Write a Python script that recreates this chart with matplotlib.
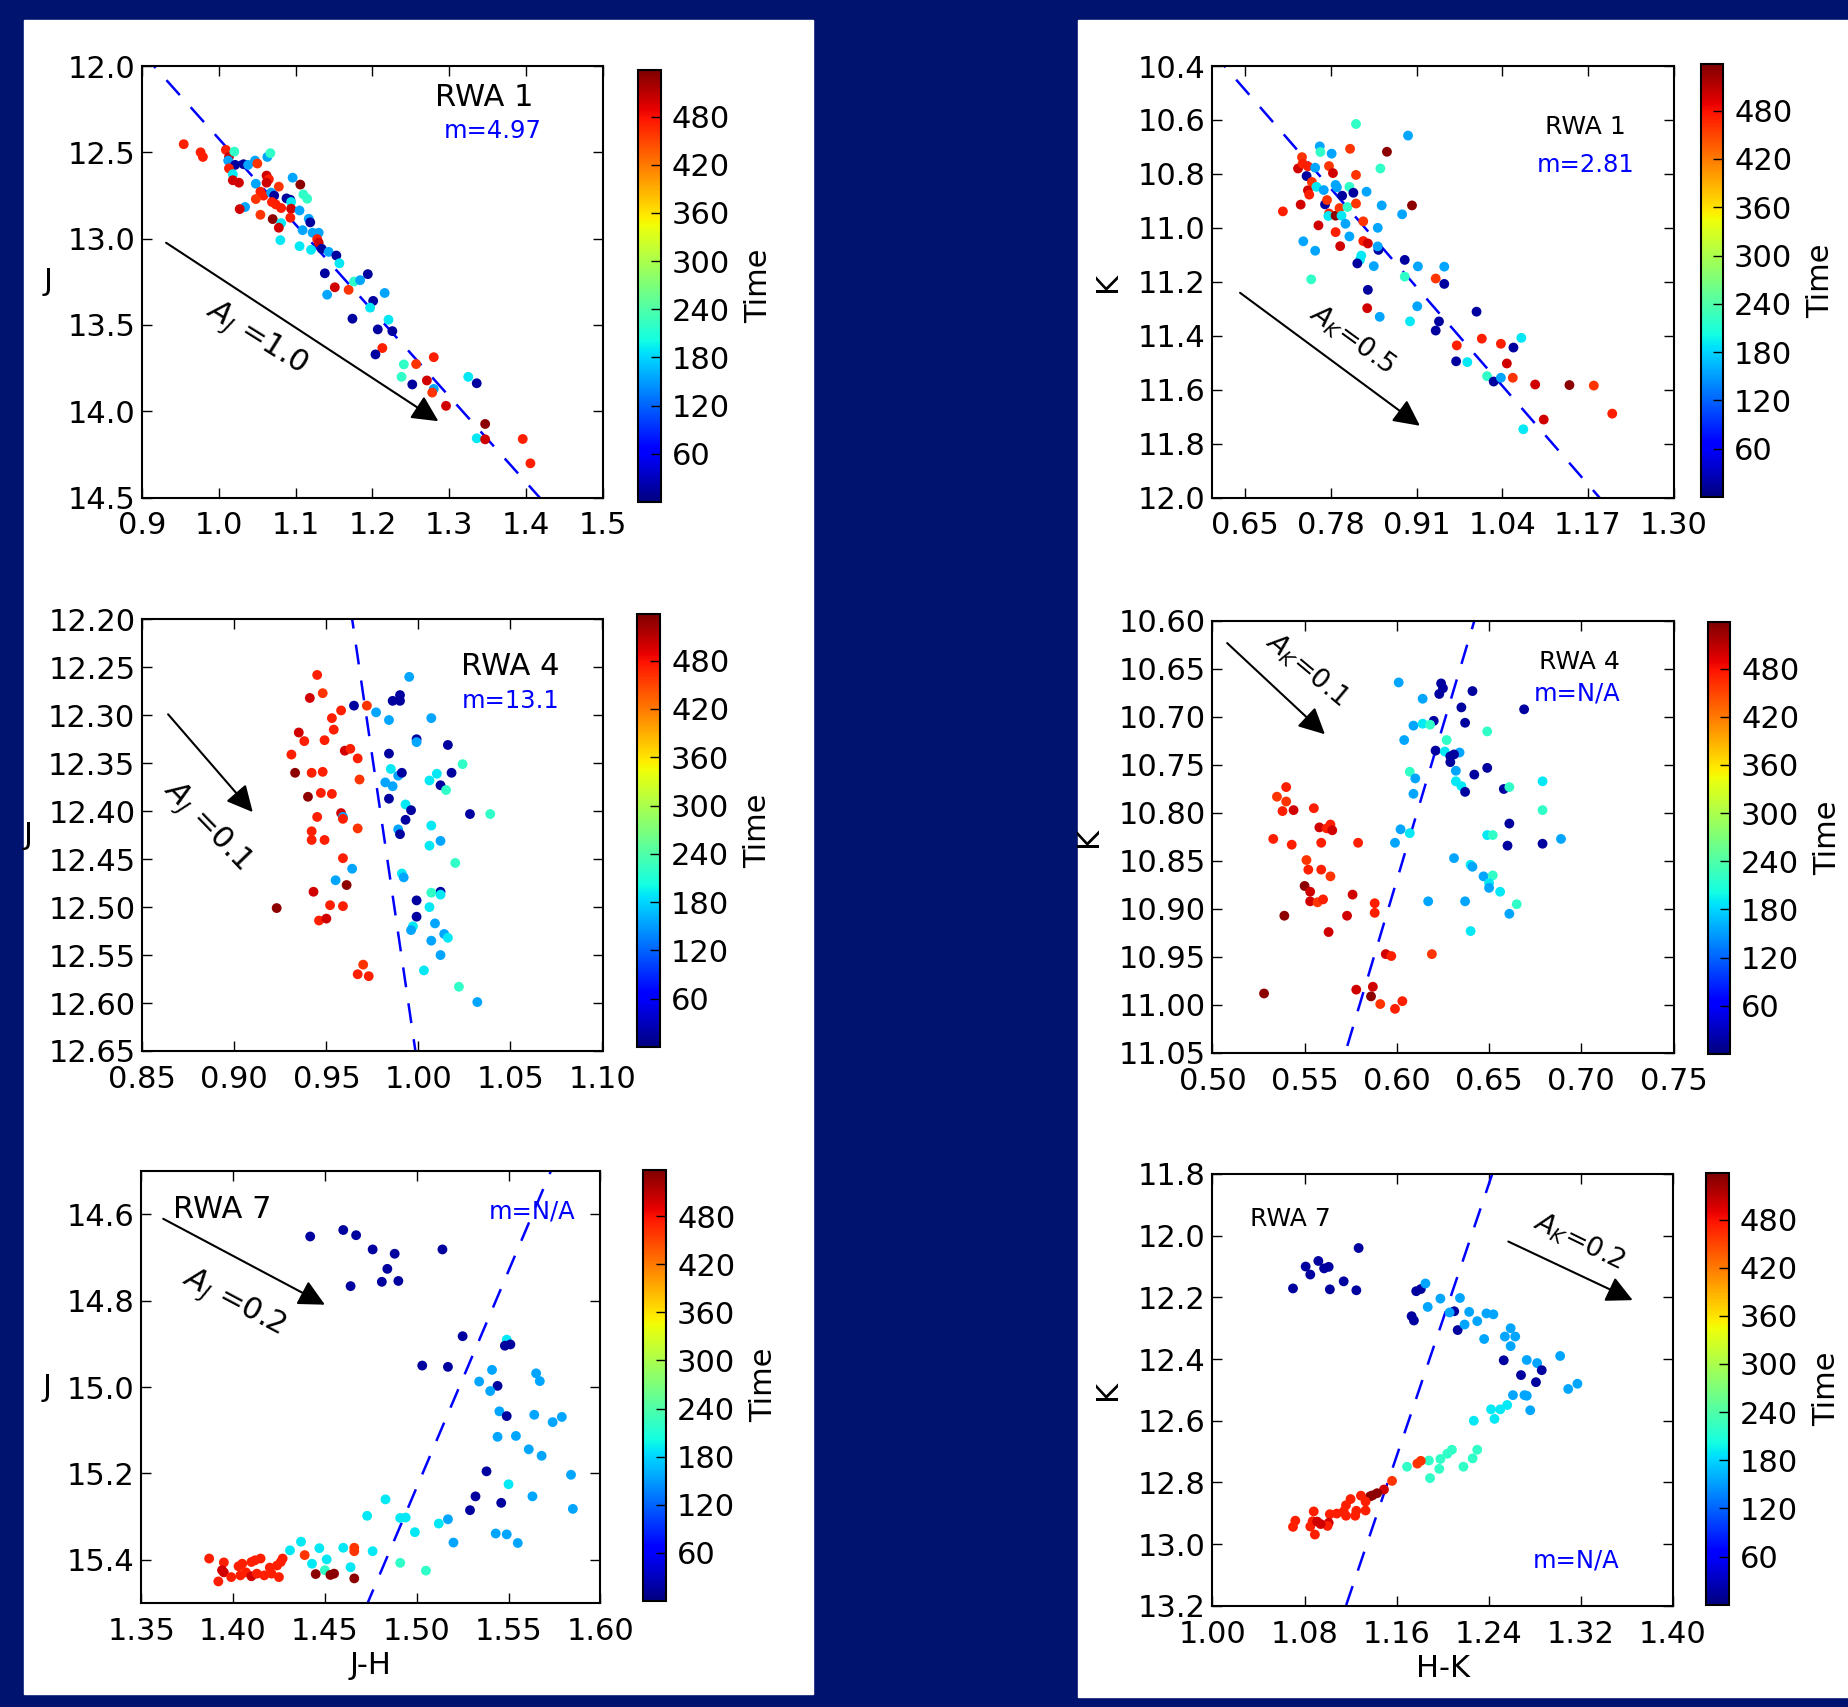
"""
Colour-magnitude diagrams of RWA 1, 4 and 7, coloured by time
"""

import matplotlib
matplotlib.use("Agg")
import matplotlib.pyplot as plt
from matplotlib.patches import Rectangle
import numpy as np

plt.rcParams["font.family"] = "DejaVu Sans"
plt.rcParams["mathtext.fontset"] = "dejavusans"

W, H = 1848, 1707
NAVY = "#00136f"

# time for each colour class
TIME = {"N": 15, "L": 155, "C": 190, "G": 220, "O": 460, "R": 472, "D": 500, "M": 530}
CB_TICKS = [60, 120, 180, 240, 300, 360, 420, 480]

# ---- RWA 1, J vs J-H
rwa1_jh = [0.954, 0.976, 0.979, 1.009, 1.013, 1.020, 1.012, 1.021, 1.032, 1.038,
           1.047, 1.050, 1.063, 1.067, 1.013, 1.018, 1.018, 1.026, 1.062, 1.065,
           1.062, 1.048, 1.078, 1.096, 1.106, 1.054, 1.058, 1.068, 1.072, 1.048,
           1.069, 1.088, 1.093, 1.094, 1.074, 1.081, 1.094, 1.110, 1.115, 1.034,
           1.027, 1.054, 1.070, 1.093, 1.105, 1.081, 1.078, 1.117, 1.119, 1.109,
           1.122, 1.130, 1.128, 1.130, 1.080, 1.105, 1.120, 1.134, 1.143, 1.153,
           1.157, 1.138, 1.141, 1.151, 1.169, 1.176, 1.184, 1.194, 1.216, 1.201,
           1.197, 1.221, 1.174, 1.207, 1.226, 1.213, 1.204, 1.241, 1.238, 1.257,
           1.280, 1.271, 1.252, 1.280, 1.278, 1.296, 1.325, 1.336, 1.347, 1.336,
           1.347, 1.396, 1.406]
rwa1_j = [12.453, 12.500, 12.527, 12.486, 12.527, 12.496, 12.548, 12.573, 12.569, 12.573,
          12.548, 12.565, 12.527, 12.505, 12.593, 12.627, 12.662, 12.676, 12.635, 12.656,
          12.676, 12.682, 12.699, 12.647, 12.687, 12.728, 12.751, 12.734, 12.751, 12.771,
          12.788, 12.767, 12.775, 12.788, 12.802, 12.823, 12.827, 12.744, 12.769, 12.817,
          12.829, 12.862, 12.887, 12.879, 12.837, 12.910, 12.937, 12.885, 12.906, 12.951,
          12.966, 12.966, 13.003, 13.024, 13.009, 13.044, 13.065, 13.059, 13.077, 13.098,
          13.143, 13.201, 13.325, 13.282, 13.297, 13.249, 13.241, 13.206, 13.315, 13.361,
          13.400, 13.470, 13.464, 13.526, 13.536, 13.634, 13.671, 13.729, 13.801, 13.727,
          13.687, 13.822, 13.845, 13.871, 13.892, 13.969, 13.801, 13.838, 14.074, 14.157,
          14.163, 14.161, 14.302]
rwa1_jt = ("RRRRDGLNNL" "LOLGRCDDDR" "DLOLMRRLNO" "RNNCRRDGGL" "DOMRLCDLNL"
           "LLRDCCCNLN" "CNLDOGLNLN" "CCNNNRNGGO" "RDNLODCNMC" "DRR")

# ---- RWA 1, K vs H-K
rwa1_hk = [0.707, 0.734, 0.730, 0.736, 0.737, 0.743, 0.745, 0.751, 0.745, 0.747,
           0.756, 0.758, 0.763, 0.764, 0.769, 0.771, 0.774, 0.777, 0.781, 0.783,
           0.777, 0.776, 0.787, 0.787, 0.789, 0.793, 0.796, 0.797, 0.802, 0.805,
           0.808, 0.809, 0.818, 0.818, 0.818, 0.814, 0.834, 0.855, 0.865, 0.897,
           0.903, 0.857, 0.888, 0.829, 0.851, 0.761, 0.787, 0.808, 0.794, 0.738,
           0.756, 0.829, 0.836, 0.852, 0.851, 0.826, 0.824, 0.820, 0.845, 0.750,
           0.892, 0.912, 0.892, 0.952, 0.939, 0.952, 0.836, 0.835, 0.854, 0.911,
           0.900, 1.001, 0.944, 0.939, 0.971, 1.009, 1.038, 1.057, 1.069, 0.970,
           0.987, 1.047, 1.017, 1.027, 1.038, 1.056, 1.090, 1.142, 1.179, 1.207,
           1.103, 1.072]
rwa1_k = [10.939, 10.914, 10.780, 10.738, 10.762, 10.808, 10.772, 10.830, 10.861, 10.877,
          10.777, 10.848, 10.698, 10.719, 10.860, 10.913, 10.897, 10.771, 10.725, 10.797,
          10.947, 10.956, 10.955, 10.841, 10.850, 10.927, 10.955, 10.881, 10.985, 10.923,
          10.848, 10.707, 10.615, 10.804, 10.910, 10.870, 10.866, 10.780, 10.718, 10.658,
          10.917, 10.917, 10.950, 10.976, 11.000, 10.991, 11.016, 11.032, 11.068, 11.050,
          11.085, 11.049, 11.058, 11.082, 11.069, 11.103, 11.119, 11.132, 11.142, 11.191,
          11.119, 11.143, 11.181, 11.144, 11.188, 11.208, 11.230, 11.298, 11.330, 11.291,
          11.347, 11.311, 11.347, 11.381, 11.436, 11.411, 11.430, 11.444, 11.408, 11.495,
          11.498, 11.503, 11.550, 11.570, 11.556, 11.556, 11.581, 11.583, 11.585, 11.689,
          11.711, 11.747]
rwa1_kt = ("RDDORNRODR" "LCLGLNOOLD" "RCMLLOCNLG" "GOGOONLGML" "MLLOLDRLDL"
           "LRDNLCCNLG" "NLGLONNDLL" "CNNNRRRNCN" "CDGNLODMOR" "DC")

# ---- RWA 4, J vs J-H
rwa4_jh = [0.945, 0.948, 0.941, 0.965, 0.972, 0.958, 0.953, 0.977, 0.984, 0.986,
           0.990, 0.990, 0.995, 1.007, 0.935, 0.954, 0.938, 0.949, 0.931, 0.960,
           0.963, 0.967, 0.999, 0.999, 1.016, 0.984, 0.933, 0.942, 0.948, 0.968,
           0.985, 0.989, 0.991, 0.982, 0.986, 1.006, 1.010, 1.012, 1.015, 1.018,
           1.024, 0.940, 0.947, 0.953, 0.984, 0.993, 0.996, 1.028, 1.039, 0.958,
           0.959, 0.945, 0.959, 0.967, 0.993, 0.942, 0.942, 0.949, 0.989, 0.990,
           1.007, 1.012, 1.006, 1.020, 0.959, 0.964, 0.955, 0.961, 0.991, 0.992,
           0.943, 1.012, 1.007, 1.012, 0.999, 0.923, 0.952, 0.959, 1.006, 0.999,
           0.946, 0.950, 0.997, 0.996, 1.009, 1.014, 1.016, 1.007, 1.012, 1.003,
           0.970, 0.967, 0.973, 1.022, 1.032]
rwa4_j = [12.258, 12.277, 12.282, 12.290, 12.290, 12.295, 12.303, 12.297, 12.305, 12.285,
          12.279, 12.285, 12.260, 12.303, 12.318, 12.315, 12.327, 12.326, 12.341, 12.337,
          12.335, 12.345, 12.325, 12.328, 12.331, 12.340, 12.360, 12.360, 12.359, 12.367,
          12.356, 12.363, 12.360, 12.370, 12.374, 12.368, 12.361, 12.373, 12.378, 12.360,
          12.351, 12.385, 12.381, 12.382, 12.387, 12.393, 12.399, 12.403, 12.403, 12.402,
          12.406, 12.406, 12.408, 12.418, 12.409, 12.421, 12.430, 12.430, 12.419, 12.424,
          12.415, 12.431, 12.436, 12.454, 12.449, 12.460, 12.472, 12.477, 12.465, 12.469,
          12.484, 12.484, 12.485, 12.487, 12.493, 12.501, 12.498, 12.499, 12.500, 12.510,
          12.514, 12.512, 12.520, 12.524, 12.517, 12.528, 12.532, 12.535, 12.550, 12.566,
          12.560, 12.570, 12.572, 12.583, 12.599]
rwa4_jt = ("RODNORRLLN" "NNLLDRRRRD" "RRNLNNMRRO" "CLNLLCCNGN" "GMRRNCNNGD"
           "LRRONRRRLN" "CLCGRLLMCL" "DNGCNMRRCN" "RDCLLLCLLC" "ORRGL")

# ---- RWA 4, K vs H-K
rwa4_hk = [0.601, 0.624, 0.625, 0.623, 0.641, 0.614, 0.635, 0.669, 0.620, 0.637,
           0.609, 0.614, 0.618, 0.649, 0.604, 0.627, 0.621, 0.626, 0.634, 0.629,
           0.631, 0.629, 0.632, 0.607, 0.610, 0.642, 0.649, 0.632, 0.635, 0.637,
           0.609, 0.658, 0.661, 0.679, 0.679, 0.661, 0.602, 0.607, 0.599, 0.649,
           0.652, 0.660, 0.679, 0.689, 0.631, 0.640, 0.641, 0.647, 0.652, 0.650,
           0.650, 0.656, 0.665, 0.661, 0.617, 0.637, 0.640, 0.540, 0.535, 0.540,
           0.538, 0.544, 0.555, 0.558, 0.564, 0.562, 0.565, 0.533, 0.543, 0.559,
           0.579, 0.551, 0.552, 0.559, 0.564, 0.550, 0.553, 0.553, 0.557, 0.560,
           0.576, 0.588, 0.588, 0.573, 0.539, 0.563, 0.594, 0.597, 0.619, 0.578,
           0.587, 0.586, 0.591, 0.603, 0.599, 0.528]
rwa4_k = [10.664, 10.665, 10.670, 10.676, 10.673, 10.681, 10.690, 10.692, 10.704, 10.706,
          10.709, 10.707, 10.708, 10.715, 10.724, 10.724, 10.735, 10.736, 10.737, 10.741,
          10.739, 10.747, 10.756, 10.757, 10.764, 10.760, 10.753, 10.767, 10.772, 10.778,
          10.780, 10.775, 10.773, 10.767, 10.797, 10.811, 10.817, 10.821, 10.831, 10.823,
          10.823, 10.834, 10.832, 10.827, 10.847, 10.854, 10.856, 10.866, 10.865, 10.873,
          10.878, 10.882, 10.895, 10.905, 10.892, 10.892, 10.923, 10.773, 10.783, 10.788,
          10.798, 10.797, 10.795, 10.815, 10.812, 10.816, 10.818, 10.827, 10.833, 10.831,
          10.831, 10.849, 10.859, 10.859, 10.866, 10.876, 10.882, 10.892, 10.893, 10.890,
          10.885, 10.894, 10.904, 10.907, 10.907, 10.924, 10.947, 10.949, 10.947, 10.984,
          10.981, 10.991, 10.999, 10.996, 11.004, 10.988]
rwa4_kt = ("LNNNNLNNNN" "LCGGLGNCLN" "NNLGLNNCCN" "LNGCGNLCLC" "GNNLLCLLGC"
           "LCGLLLCROO" "RDRDRRDRRR" "RORROMDDOR" "DRRDMDDROD" "DMORRM")

# ---- RWA 7, J vs J-H
rwa7_jh = [1.442, 1.460, 1.467, 1.476, 1.488, 1.514, 1.484, 1.464, 1.481, 1.490,
           1.525, 1.549, 1.548, 1.551, 1.503, 1.517, 1.541, 1.534, 1.544, 1.540,
           1.565, 1.567, 1.545, 1.549, 1.564, 1.574, 1.579, 1.544, 1.554, 1.561,
           1.568, 1.584, 1.538, 1.550, 1.532, 1.546, 1.563, 1.585, 1.529, 1.517,
           1.512, 1.494, 1.491, 1.483, 1.473, 1.499, 1.543, 1.549, 1.555, 1.520,
           1.437, 1.431, 1.447, 1.460, 1.466, 1.466, 1.476, 1.439, 1.451, 1.443,
           1.464, 1.450, 1.491, 1.505, 1.445, 1.453, 1.455, 1.466, 1.387, 1.395,
           1.394, 1.395, 1.392, 1.399, 1.403, 1.405, 1.410, 1.415, 1.412, 1.404,
           1.407, 1.410, 1.413, 1.420, 1.421, 1.425, 1.426, 1.427, 1.424, 1.417]
rwa7_j = [14.651, 14.636, 14.648, 14.681, 14.691, 14.681, 14.726, 14.766, 14.756, 14.754,
          14.882, 14.890, 14.904, 14.901, 14.950, 14.953, 14.960, 14.987, 14.997, 15.009,
          14.968, 14.986, 15.056, 15.067, 15.064, 15.081, 15.069, 15.115, 15.113, 15.144,
          15.159, 15.203, 15.195, 15.225, 15.253, 15.268, 15.253, 15.282, 15.285, 15.306,
          15.316, 15.302, 15.303, 15.260, 15.298, 15.336, 15.339, 15.341, 15.361, 15.360,
          15.358, 15.378, 15.373, 15.372, 15.372, 15.380, 15.380, 15.389, 15.399, 15.409,
          15.417, 15.424, 15.407, 15.425, 15.433, 15.435, 15.432, 15.443, 15.397, 15.406,
          15.424, 15.429, 15.450, 15.440, 15.415, 15.409, 15.405, 15.397, 15.401, 15.436,
          15.429, 15.438, 15.432, 15.418, 15.432, 15.440, 15.405, 15.397, 15.413, 15.436]
rwa7_jt = ("NNNNNNNNNN" "NCNNNNLLNL" "LLLNLLLLLL" "LLNCNNLLNL" "CCCCCCLLLL"
           "CCCCOOCOCC" "CGGGMMMMRR" "DDRRRRRRRR" "RDRRRRRRRR")

# ---- RWA 7, K vs H-K
rwa7_hk = [1.070, 1.081, 1.085, 1.092, 1.097, 1.101, 1.102, 1.114, 1.125, 1.127,
           1.177, 1.181, 1.185, 1.198, 1.187, 1.215, 1.210, 1.206, 1.173, 1.175,
           1.213, 1.219, 1.223, 1.230, 1.238, 1.244, 1.236, 1.254, 1.259, 1.263,
           1.259, 1.253, 1.273, 1.282, 1.286, 1.268, 1.281, 1.302, 1.317, 1.309,
           1.261, 1.271, 1.273, 1.256, 1.250, 1.242, 1.276, 1.245, 1.227, 1.169,
           1.188, 1.198, 1.204, 1.208, 1.197, 1.189, 1.218, 1.226, 1.230, 1.178,
           1.181, 1.156, 1.149, 1.143, 1.137, 1.139, 1.133, 1.125, 1.129, 1.120,
           1.116, 1.114, 1.108, 1.102, 1.101, 1.100, 1.094, 1.088, 1.087, 1.085,
           1.089, 1.091, 1.072, 1.070, 1.116, 1.124, 1.133]
rwa7_k = [12.171, 12.100, 12.126, 12.082, 12.106, 12.101, 12.174, 12.148, 12.177, 12.040,
          12.180, 12.173, 12.155, 12.204, 12.231, 12.202, 12.245, 12.249, 12.261, 12.275,
          12.306, 12.288, 12.247, 12.277, 12.252, 12.255, 12.335, 12.327, 12.300, 12.327,
          12.358, 12.404, 12.403, 12.413, 12.436, 12.452, 12.475, 12.390, 12.480, 12.497,
          12.517, 12.517, 12.519, 12.549, 12.563, 12.563, 12.566, 12.594, 12.600, 12.749,
          12.729, 12.724, 12.707, 12.694, 12.756, 12.786, 12.749, 12.722, 12.694, 12.739,
          12.730, 12.795, 12.823, 12.835, 12.845, 12.842, 12.862, 12.892, 12.843, 12.854,
          12.874, 12.894, 12.901, 12.903, 12.931, 12.941, 12.935, 12.894, 12.926, 12.943,
          12.969, 12.927, 12.924, 12.944, 12.908, 12.908, 12.891]
rwa7_kt = ("NNNNNNNNNN" "NNLLLLNLNN" "NLLLLLLLLL" "LNLLNNNLLL" "LLLCCCLCCG"
           "GGGGGGGGGO" "OODMMMRRRR" "RRRRDRDRRR" "RDRRRRR")

# fitted slopes / intercepts of the dashed lines (mag = slope * colour + icpt)
line_slope = [4.97, 2.81, 13.1, -6.43, -10.03, -11.02]
line_icpt = [7.4525, 8.6632, -0.4286, 14.728, 30.277, 25.498]

# axis ticks
ticks_x = [[0.9, 1.0, 1.1, 1.2, 1.3, 1.4, 1.5],
           [0.65, 0.78, 0.91, 1.04, 1.17, 1.30],
           [0.85, 0.90, 0.95, 1.00, 1.05, 1.10],
           [0.50, 0.55, 0.60, 0.65, 0.70, 0.75],
           [1.35, 1.40, 1.45, 1.50, 1.55, 1.60],
           [1.00, 1.08, 1.16, 1.24, 1.32, 1.40]]
ticks_y = [[12.0, 12.5, 13.0, 13.5, 14.0, 14.5],
           [10.4, 10.6, 10.8, 11.0, 11.2, 11.4, 11.6, 11.8, 12.0],
           [12.20, 12.25, 12.30, 12.35, 12.40, 12.45, 12.50, 12.55, 12.60, 12.65],
           [10.60, 10.65, 10.70, 10.75, 10.80, 10.85, 10.90, 10.95, 11.00, 11.05],
           [14.6, 14.8, 15.0, 15.2, 15.4],
           [11.8, 12.0, 12.2, 12.4, 12.6, 12.8, 13.0, 13.2]]


def px_rect(l, t, r, b):
    return [l / W, 1 - b / H, (r - l) / W, (b - t) / H]


panels = [
    dict(x=rwa1_jh, y=rwa1_j, c=rwa1_jt, ax=(142.3, 66, 602.5, 497.5), cb=(638, 70, 660.5, 502),
         xlim=(0.9, 1.5), ylim=(14.5, 12.0), xf="%.1f", yf="%.1f", ylab="J", xlab=None,
         name=("RWA 1", 1.346, 12.18, 22), m=("m=4.97", 1.357, 12.377),
         arrow=((0.931, 13.024), (1.286, 14.058)), atext=(r"$A_J$ =1.0", 1.049, 13.58, -32, 22)),
    dict(x=rwa1_hk, y=rwa1_k, c=rwa1_kt, ax=(1212.4, 66, 1673.5, 497.5), cb=(1701, 64, 1723, 497),
         xlim=(0.60, 1.30), ylim=(12.0, 10.4), xf="%.2f", yf="%.1f", ylab="K", xlab=None,
         name=("RWA 1", 1.166, 10.628, 18), m=("m=2.81", 1.167, 10.767),
         arrow=((0.642, 11.241), (0.915, 11.734)), atext=(r"$A_K$=0.5", 0.813, 11.413, -36, 19.5)),
    dict(x=rwa4_jh, y=rwa4_j, c=rwa4_jt, ax=(142.3, 619.3, 602.5, 1051), cb=(637, 614, 660, 1047),
         xlim=(0.85, 1.10), ylim=(12.65, 12.20), xf="%.2f", yf="%.2f", ylab="J", xlab=None,
         name=("RWA 4", 1.050, 12.249, 22), m=("m=13.1", 1.050, 12.285),
         arrow=((0.864, 12.299), (0.910, 12.401)), atext=(r"$A_J$ =0.1", 0.885, 12.416, -46, 22)),
    dict(x=rwa4_hk, y=rwa4_k, c=rwa4_kt, ax=(1212.4, 621, 1673.5, 1053), cb=(1707.7, 622, 1730, 1054),
         xlim=(0.50, 0.75), ylim=(11.05, 10.60), xf="%.2f", yf="%.2f", ylab="K", xlab=None,
         name=("RWA 4", 0.699, 10.643, 18), m=("m=N/A", 0.698, 10.676),
         arrow=((0.508, 10.623), (0.561, 10.718)), atext=(r"$A_K$=0.1", 0.551, 10.651, -40, 19.5)),
    dict(x=rwa7_jh, y=rwa7_j, c=rwa7_jt, ax=(141.2, 1171.3, 600.4, 1603), cb=(643, 1169.5, 666, 1601),
         xlim=(1.35, 1.60), ylim=(15.5, 14.5), xf="%.2f", yf="%.1f", ylab="J", xlab="J-H",
         name=("RWA 7", 1.394, 14.589, 22), m=("m=N/A", 1.563, 14.593),
         arrow=((1.362, 14.610), (1.450, 14.809)), atext=(r"$A_J$ =0.2", 1.400, 14.803, -28, 22)),
    dict(x=rwa7_hk, y=rwa7_k, c=rwa7_kt, ax=(1212.4, 1174, 1673, 1605.8), cb=(1706, 1173, 1728.6, 1604.7),
         xlim=(1.00, 1.40), ylim=(13.2, 11.8), xf="%.2f", yf="%.1f", ylab="K", xlab="H-K",
         name=("RWA 7", 1.068, 11.946, 18), m=("m=N/A", 1.316, 13.052),
         arrow=((1.257, 12.019), (1.365, 12.209)), atext=(r"$A_K$=0.2", 1.318, 12.019, -26, 19.5)),
]

fig = plt.figure(figsize=(W / 100, H / 100), dpi=100, facecolor=NAVY)
# white backing panels, drawn underneath the axes
fig.patches.append(Rectangle((24 / W, 1 - 1694 / H), (813 - 24) / W, (1694 - 20) / H,
                             transform=fig.transFigure, color="white", zorder=-10))
fig.patches.append(Rectangle((1078 / W, 1 - 1697 / H), (W - 1078) / W, (1697 - 20) / H,
                             transform=fig.transFigure, color="white", zorder=-10))

for i, p in enumerate(panels):
    ax = fig.add_axes(px_rect(*p["ax"]))
    ax.set_zorder(1)
    times = [TIME[k] for k in p["c"]]
    sc = ax.scatter(p["x"], p["y"], c=times, cmap="jet", vmin=0, vmax=538,
                    s=50, linewidths=0, zorder=3)

    xx = np.array(p["xlim"])
    ax.plot(xx, line_slope[i] * xx + line_icpt[i], color="blue", lw=1.8,
            dashes=(8, 6.5), zorder=2)

    ax.set_xlim(p["xlim"])
    ax.set_ylim(p["ylim"])
    ax.set_xticks(ticks_x[i])
    ax.set_xticklabels([p["xf"] % v for v in ticks_x[i]])
    ax.set_yticks(ticks_y[i])
    ax.set_yticklabels([p["yf"] % v for v in ticks_y[i]])
    ax.tick_params(direction="in", length=7, width=1, top=True, right=True, labelsize=22)
    ax.tick_params(axis="x", pad=10)
    ax.tick_params(axis="y", pad=5)
    for sp in ax.spines.values():
        sp.set_linewidth(1.5)

    if p["ylab"] == "J":
        ax.set_ylabel("J", fontsize=22, rotation=0, ha="right", va="center", labelpad=11)
    else:
        ax.set_ylabel("K", fontsize=22, labelpad=11)
    if p["xlab"]:
        ax.set_xlabel(p["xlab"], fontsize=22, labelpad=4)

    name, nx, ny, nfs = p["name"]
    ax.text(nx, ny, name, ha="center", va="center", fontsize=nfs, zorder=4)
    mt, mx, my = p["m"]
    ax.text(mx, my, mt, ha="center", va="center", fontsize=17.5, color="blue", zorder=4)

    a0, a1 = p["arrow"]
    ax.annotate("", xy=a1, xytext=a0,
                arrowprops=dict(arrowstyle="-|>", color="k", lw=1.5,
                                mutation_scale=40, shrinkA=0, shrinkB=0))
    at, tx, ty, rot, afs = p["atext"]
    ax.text(tx, ty, at, ha="center", va="center", rotation=rot, fontsize=afs)

    cax = fig.add_axes(px_rect(*p["cb"]))
    cax.set_zorder(1)
    cb = fig.colorbar(sc, cax=cax, ticks=CB_TICKS)
    cb.ax.tick_params(direction="in", length=7, width=1, labelsize=22, pad=8)
    cb.set_label("Time", fontsize=22, labelpad=10)
    cb.outline.set_linewidth(1.5)

fig.savefig("out.png", dpi=100, facecolor=NAVY)
